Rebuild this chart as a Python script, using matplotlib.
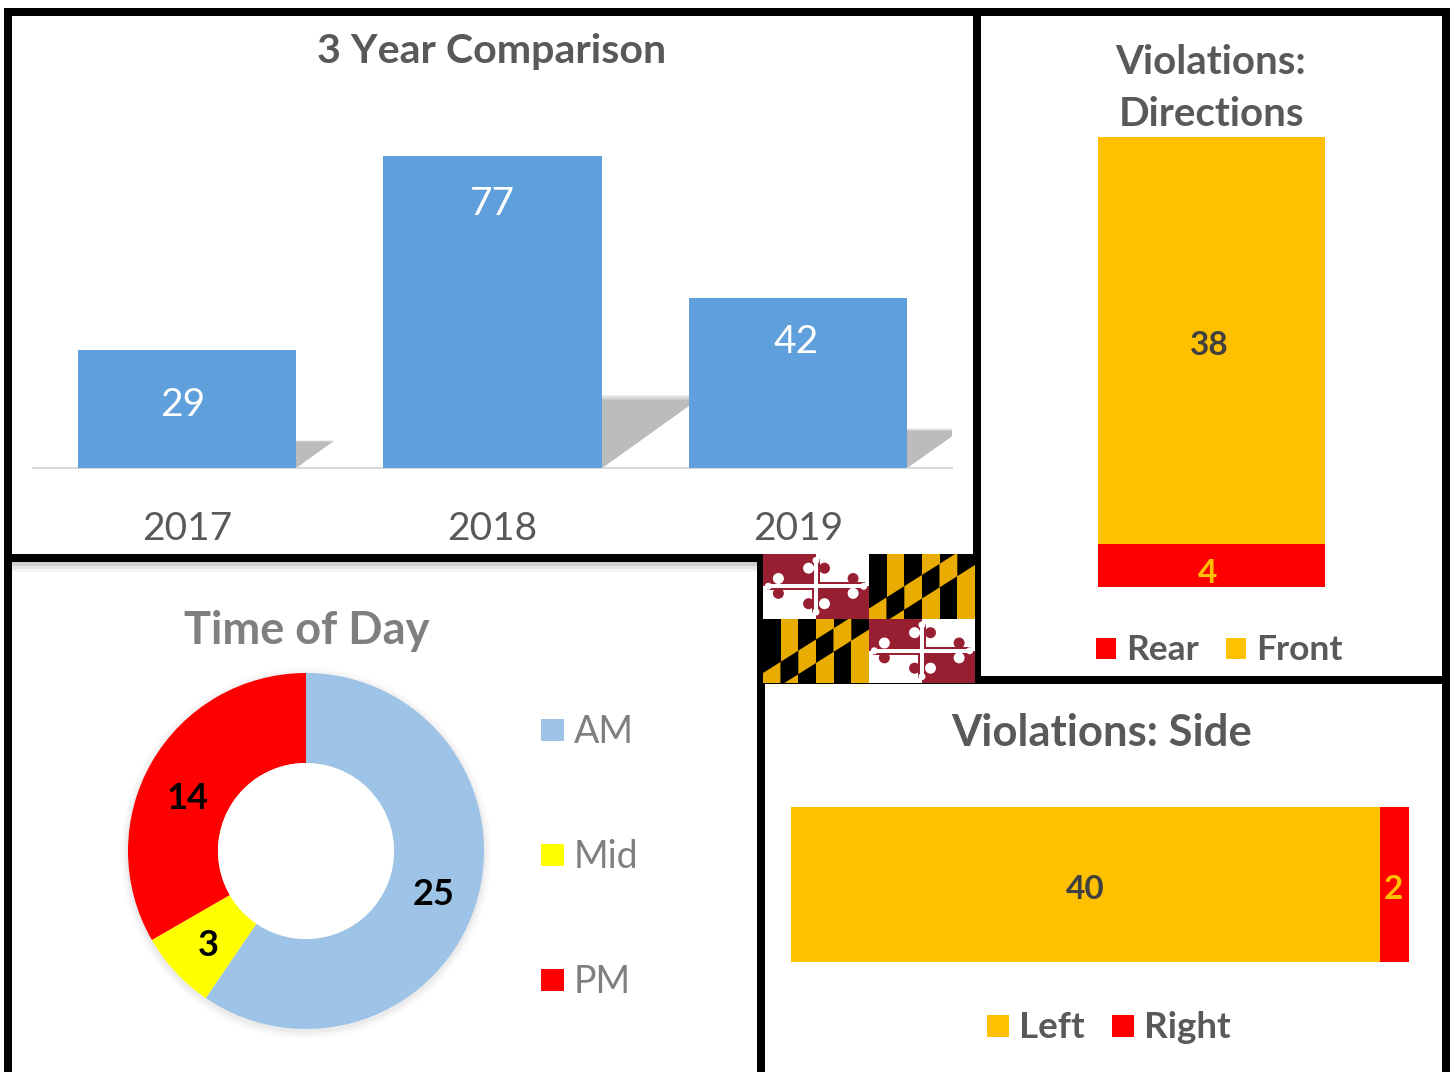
'''
Maryland violations dashboard: 3 year bars, time of day donut, direction and side stacks.
'''
import matplotlib
matplotlib.use("Agg")
import matplotlib.pyplot as plt
from matplotlib.patches import Rectangle, Polygon, Circle

W, H = 1453, 1072

years = ["2017", "2018", "2019"]
year_counts = [29, 77, 42]

time_labels = ["AM", "Mid", "PM"]
time_counts = [25, 3, 14]
time_colors = ["#9DC3E6", "#FFFF00", "#FF0000"]

dir_labels = ["Rear", "Front"]
dir_counts = [4, 38]

side_labels = ["Left", "Right"]
side_counts = [40, 2]

GOLD = "#FFC000"
RED = "#FF0000"
BLUE = "#5E9FDC"
DARK = "#595959"
GREY = "#7F7F7F"

plt.rcParams["font.family"] = ["Lato", "DejaVu Sans"]

fig = plt.figure(figsize=(W / 100, H / 100), dpi=100, facecolor="white")


def ax_px(x0, y0, x1, y1, **kw):
    # axes from pixel box, y counted from the top of the image
    return fig.add_axes([x0 / W, 1 - y1 / H, (x1 - x0) / W, (y1 - y0) / H], **kw)


# 3 year bars
ax = ax_px(33, 100, 952, 468)
px_per_unit = 312 / 77
ax.set_xlim(-0.503, 2.503)
ax.set_ylim(0, 368 / px_per_unit)
ax.axis("off")
bars = ax.bar(range(3), year_counts, width=0.714, color=BLUE, zorder=3)
for i, v in enumerate(year_counts):
    # slanted floor shadow, a few layers for the soft edge
    h = v * 0.235
    dx = h * 0.0185
    right = i + 0.357
    for grow, col in [(1.0, "#F0F0F0"), (0.98, "#E0E0E0"), (0.96, "#CDCDCD"), (0.93, "#BCBCBC")]:
        ax.add_patch(Polygon([(right, 0), (right, h * grow), (right + dx * grow, h * grow)],
                             closed=True, color=col, zorder=1, lw=0))
label_shift = [-55, -48, -44]
label_dx = [-4, 0, -2]
for i, v in enumerate(year_counts):
    ax.annotate(str(v), (i, v), xytext=(label_dx[i] * 0.72, label_shift[i] * 0.72),
                textcoords="offset points", ha="center", va="center",
                color="white", fontsize=28, zorder=4)
    ax.annotate(years[i], (i, 0), xytext=(0, -61 * 0.72), textcoords="offset points",
                ha="center", va="center", color=DARK, fontsize=28, annotation_clip=False)
ax.plot([-0.503, 2.503], [0, 0], color="#D9D9D9", lw=1.5, zorder=2, clip_on=False)

# direction stack
ax = ax_px(1098, 137, 1325, 587)
ax.set_xlim(0, 1)
ax.set_ylim(0, sum(dir_counts))
ax.axis("off")
ax.bar(0.5, dir_counts[0], width=1, color=RED)
ax.bar(0.5, dir_counts[1], width=1, bottom=dir_counts[0], color=GOLD)
ax.annotate(str(dir_counts[1]), (0.49, dir_counts[0] + dir_counts[1] / 2), xytext=(0, -3.5),
            textcoords="offset points", ha="center", va="center",
            fontsize=24, fontweight="bold", color="#404040")
ax.annotate(str(dir_counts[0]), (0.49, dir_counts[0] / 2), xytext=(-1, -5.5),
            textcoords="offset points", ha="center", va="center",
            fontsize=24, fontweight="bold", color=GOLD)

# side stack
ax = ax_px(791, 807, 1409, 962)
ax.set_xlim(0, sum(side_counts))
ax.set_ylim(0, 1)
ax.axis("off")
ax.barh(0.5, side_counts[0], height=1, color=GOLD)
ax.barh(0.5, side_counts[1], height=1, left=side_counts[0], color=RED)
ax.annotate(str(side_counts[0]), (side_counts[0] / 2, 0.5), xytext=(0, -3.5),
            textcoords="offset points", ha="center", va="center",
            fontsize=24, fontweight="bold", color="#404040")
ax.annotate(str(side_counts[1]), (side_counts[0] + side_counts[1] / 2, 0.5), xytext=(-1, -3.5),
            textcoords="offset points", ha="center", va="center",
            fontsize=24, fontweight="bold", color=GOLD)

# donut
ax = ax_px(118, 663, 494, 1039)
ax.set_aspect("equal")
ax.axis("off")
for r, a in [(186, 0.012), (184, 0.015), (182, 0.02), (180, 0.03)]:
    ax.add_patch(Circle((0, -2), r, color="black", alpha=a, lw=0))
total = sum(time_counts)
wedges, _, pct_texts = ax.pie(
    time_counts, colors=time_colors, radius=178, center=(0, 0), startangle=90, counterclock=False,
    wedgeprops=dict(width=90, linewidth=0), autopct=lambda p: f"{round(p * total / 100)}",
    pctdistance=133 / 178, textprops=dict(fontsize=26, fontweight="bold", color="black"))
ax.add_patch(Circle((0, 0), 88, color="white", lw=0, zorder=5))
for t, (ddx, ddy) in zip(pct_texts, [(0, -4), (0, -4), (-3, -14)]):
    x, y = t.get_position()
    t.set_position((x + ddx, y + ddy))
ax.set_xlim(-188, 188)
ax.set_ylim(-188, 188)

# everything placed by pixel: frames, titles, legends, flag
ov = ax_px(0, 0, W, H, zorder=10)
ov.set_xlim(0, W)
ov.set_ylim(H, 0)
ov.axis("off")
ov.patch.set_alpha(0)

for off, a in [(14, 0.04), (11, 0.06), (8, 0.1)]:
    ov.add_patch(Rectangle((8, 558), 752, off, color="black", alpha=a, lw=0))

frames = [
    (8, 12, 977, 12), (8, 12, 8, 558), (977, 12, 977, 558), (8, 558, 760, 558),
    (8, 558, 8, 1072), (761, 558, 761, 1072), (977, 12, 1446, 12), (1446, 12, 1446, 1072),
    (977, 558, 977, 680), (977, 680, 1446, 680), (761, 680, 1446, 680),
]
for x0, y0, x1, y1 in frames:
    ov.add_patch(Rectangle((min(x0, x1) - 4, min(y0, y1) - 4), abs(x1 - x0) + 8, abs(y1 - y0) + 8,
                           color="black", lw=0))

ov.text(492, 51, "3 Year Comparison", ha="center", va="center", fontsize=29.6, fontweight="bold", color=DARK)
ov.text(1211, 63, "Violations:", ha="center", va="center", fontsize=29, fontweight="bold", color=DARK)
ov.text(1211, 115, "Directions", ha="center", va="center", fontsize=29, fontweight="bold", color=DARK)
ov.text(1102, 733, "Violations: Side", ha="center", va="center", fontsize=31.4, fontweight="bold", color=DARK)
ov.text(307, 631, "Time of Day", ha="center", va="center", fontsize=32.5, fontweight="bold", color=GREY)

for lab, col, y in zip(time_labels, time_colors, [730, 855, 980]):
    ov.add_patch(Rectangle((541, y - 11), 23, 22, color=col, lw=0))
    ov.text(574, y + 2, lab, ha="left", va="center", fontsize=27, color=GREY)

for lab, col, x in zip(dir_labels, [RED, GOLD], [1096, 1226]):
    ov.add_patch(Rectangle((x, 638), 20, 21, color=col, lw=0))
    ov.text(x + 30, 650, lab, ha="left", va="center", fontsize=25.5, fontweight="bold", color=DARK)

for lab, col, x in zip(side_labels, [GOLD, RED], [987, 1112]):
    ov.add_patch(Rectangle((x, 1015), 22, 22, color=col, lw=0))
    ov.text(x + 32, 1028, lab, ha="left", va="center", fontsize=26.5, fontweight="bold", color=DARK)

# Maryland flag
FX, FY, QW, QH = 763, 554, 106, 64.5
FLAG_RED, FLAG_GOLD = "#981E32", "#E8AD00"


def calvert(x0, y0):
    clip = Rectangle((x0, y0), QW, QH, transform=ov.transData)
    for k in range(6):
        a, b = k / 6, (k + 1) / 6
        base, swap = ("black", FLAG_GOLD) if k % 2 == 0 else (FLAG_GOLD, "black")
        ov.add_patch(Rectangle((x0 + a * QW, y0), QW / 6, QH, color=base, lw=0))
        pts = [(a, 0.845 - 1.04 * a), (b, 0.845 - 1.04 * b), (b, 1.21 - 1.04 * b), (a, 1.21 - 1.04 * a)]
        p = Polygon([(x0 + u * QW, y0 + v * QH) for u, v in pts], closed=True, color=swap, lw=0)
        ov.add_patch(p)
        p.set_clip_path(clip)


def crossland(x0, y0):
    ov.add_patch(Rectangle((x0, y0), QW, QH, color="white", lw=0))
    ov.add_patch(Rectangle((x0, y0), QW / 2, QH / 2, color=FLAG_RED, lw=0))
    ov.add_patch(Rectangle((x0 + QW / 2, y0 + QH / 2), QW / 2, QH / 2, color=FLAG_RED, lw=0))
    # lobes of the bottony cross, counterchanged
    bulbs = [
        (0.43, 0.22, "white"), (0.58, 0.22, FLAG_RED), (0.43, 0.77, FLAG_RED), (0.58, 0.77, "white"),
        (0.145, 0.38, "white"), (0.145, 0.61, FLAG_RED), (0.85, 0.38, FLAG_RED), (0.85, 0.61, "white"),
    ]
    for u, v, col in bulbs:
        ov.add_patch(Circle((x0 + u * QW, y0 + v * QH), 5.5, color=col, lw=0))
    # red edge on the white quarters
    ov.add_patch(Rectangle((x0 + 0.04 * QW, y0 + 0.5 * QH), 0.46 * QW, 4, color=FLAG_RED, lw=0))
    ov.add_patch(Rectangle((x0 + 0.5 * QW, y0 + 0.5 * QH - 4), 0.46 * QW, 4, color=FLAG_RED, lw=0))
    ov.add_patch(Rectangle((x0 + 0.5 * QW, y0 + 0.08 * QH), 4, 0.42 * QH, color=FLAG_RED, lw=0))
    ov.add_patch(Rectangle((x0 + 0.5 * QW - 4, y0 + 0.5 * QH), 4, 0.42 * QH, color=FLAG_RED, lw=0))
    # white core with round ends
    ov.add_patch(Rectangle((x0 + 0.03 * QW, y0 + 0.5 * QH - 1.8), 0.94 * QW, 3.6, color="white", lw=0))
    ov.add_patch(Rectangle((x0 + 0.5 * QW - 2.2, y0 + 0.06 * QH), 4.4, 0.88 * QH, color="white", lw=0))
    for u, v in [(0.5, 0.1), (0.5, 0.9), (0.05, 0.5), (0.95, 0.5)]:
        ov.add_patch(Circle((x0 + u * QW, y0 + v * QH), 3.5, color="white", lw=0))


crossland(FX, FY)
calvert(FX + QW, FY)
calvert(FX, FY + QH)
crossland(FX + QW, FY + QH)

fig.savefig("out.png", dpi=100)
